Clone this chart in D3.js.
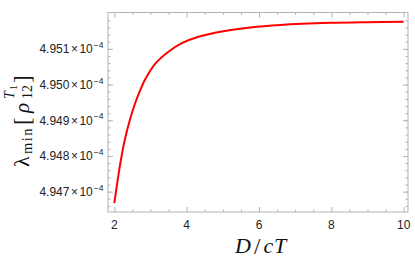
<!DOCTYPE html>
<html><head><meta charset="utf-8">
<script src="https://cdn.jsdelivr.net/npm/d3@7"></script>
<style>body{margin:0;background:#fff}svg{display:block}</style>
</head><body>
<svg id="c" width="415" height="260"></svg>
<script>
// data: x = D/cT, y = lambda_min in units of 1e-4
const xValues = [2.000, 2.111, 2.205, 2.296, 2.435, 2.573, 2.731, 2.850, 3.127, 3.496, 3.867, 4.327, 4.975, 5.759, 6.590, 7.975, 9.000, 10.000];
const yValues = [4.94668, 4.94745, 4.94802, 4.94848, 4.94903, 4.94947, 4.94988, 4.95014, 4.95058, 4.95092, 4.95116, 4.95134, 4.95149, 4.95160, 4.95167, 4.95173, 4.95175, 4.95176];
const xTicks = [2, 4, 6, 8, 10];
const xTickLabels = ["2", "4", "6", "8", "10"];
const yTicks = [4.947, 4.948, 4.949, 4.950, 4.951];
const yTickLabels = ["4.947", "4.948", "4.949", "4.950", "4.951"];

const svg = d3.select("#c");
const L = 108, R = 408, T = 12.5, B = 212;
const x = d3.scaleLinear().domain([1.825, 10.12]).range([L, R]);
const y = d3.scaleLinear().domain([4.94643, 4.95202]).range([B, T]);
const frameCol = "#b4b4b4";
const sans = "'Liberation Sans', Arial, sans-serif";
const serif = "'Liberation Serif', 'DejaVu Serif', serif";

const xMinor = d3.range(2, 10.01, 0.5).filter(v => !xTicks.includes(v));
const yMinor = d3.range(4.9466, 4.9520, 0.0002);

function tickAxis(axisFn, scale, values, len, translate) {
  const g = svg.append("g").attr("transform", translate)
    .call(axisFn(scale).tickValues(values).tickSize(len).tickFormat(""));
  g.select(".domain").remove();
  g.selectAll("line").attr("stroke", frameCol).attr("stroke-width", 1);
  return g;
}
tickAxis(d3.axisBottom, x, xTicks, -5, `translate(0,${B})`);
tickAxis(d3.axisBottom, x, xMinor, -2.5, `translate(0,${B})`);
tickAxis(d3.axisTop, x, xTicks, -5, `translate(0,${T})`);
tickAxis(d3.axisTop, x, xMinor, -2.5, `translate(0,${T})`);
tickAxis(d3.axisLeft, y, yTicks, -5, `translate(${L},0)`);
tickAxis(d3.axisLeft, y, yMinor, -2.5, `translate(${L},0)`);
tickAxis(d3.axisRight, y, yTicks, -5, `translate(${R},0)`);
tickAxis(d3.axisRight, y, yMinor, -2.5, `translate(${R},0)`);

svg.append("rect").attr("x", L).attr("y", T).attr("width", R - L).attr("height", B - T)
  .attr("fill", "none").attr("stroke", frameCol).attr("stroke-width", 1);

// x tick labels
svg.append("g").selectAll("text").data(xTicks).join("text")
  .attr("x", d => x(d)).attr("y", 229).attr("text-anchor", "middle")
  .attr("font-family", sans).attr("font-size", 12).attr("fill", "#222")
  .text((d, i) => xTickLabels[i]);

// y tick labels
const ylabs = svg.append("g").selectAll("text").data(yTicks).join("text")
  .attr("x", 103.5).attr("y", d => y(d) + 4.5).attr("text-anchor", "end")
  .attr("font-family", sans).attr("font-size", 12).attr("fill", "#222")
  .each(function(d, i) {
    const t = d3.select(this);
    t.append("tspan").text(yTickLabels[i]);
    t.append("tspan").attr("dx", 1.5).text("\u00d7");
    t.append("tspan").attr("dx", 1.5).text("10");
    t.append("tspan").attr("dx", 1).attr("dy", -5.5).attr("font-size", 8.5).text("\u22124");
  });
// fit label width to ~64px
ylabs.each(function() {
  const w = this.getBBox().width;
  if (w > 0 && Math.abs(w - 64) > 3) {
    const k = 64 / w;
    const t = d3.select(this);
    t.attr("font-size", 12 * k);
    t.select("tspan:last-child").attr("font-size", 8.5 * k);
  }
});

// line
const line = d3.line().x((d, i) => x(xValues[i])).y(d => y(d)).curve(d3.curveCatmullRom.alpha(0.5));
svg.append("path").datum(yValues).attr("d", line)
  .attr("fill", "none").attr("stroke", "#ff0000").attr("stroke-width", 2);

// x axis label
const xlab = svg.append("g").attr("font-family", serif).attr("fill", "#111");
xlab.append("text").attr("x", 235).attr("y", 253).attr("font-size", 22).attr("font-style", "italic").text("D");
xlab.append("text").attr("x", 254).attr("y", 254).attr("font-size", 23).text("/");
xlab.append("text").attr("x", 263.5).attr("y", 253).attr("font-size", 22).attr("font-style", "italic").text("c");
xlab.append("text").attr("x", 274).attr("y", 253).attr("font-size", 22).attr("font-style", "italic").text("T");

// y axis label (rotated): local (u, v) -> screen (v, -u)
const yg = svg.append("g").attr("transform", "rotate(-90)").attr("font-family", serif).attr("fill", "#111");
function ypiece(txt, sy, bx, size, italic, ls) {
  const t = yg.append("text").attr("x", -sy).attr("y", bx).attr("font-size", size).text(txt);
  if (italic) t.attr("font-style", "italic");
  if (ls) t.attr("letter-spacing", ls);
}
ypiece("\u03bb", 167, 28.5, 22, false);
ypiece("min", 154, 31.5, 14.5, false, 1.5);
ypiece("[", 125, 29.5, 23, false);
ypiece("\u03c1", 113, 28.5, 21, true);
ypiece("T", 99, 14, 14, true);
ypiece("1", 90, 16.5, 10, false);
ypiece("12", 99, 32, 14, false);
ypiece("]", 83, 29.5, 23, false);
</script>
</body></html>
